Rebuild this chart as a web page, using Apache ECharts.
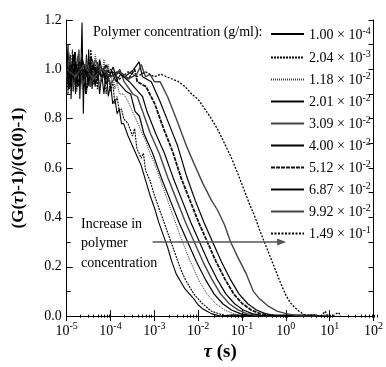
<!DOCTYPE html>
<html><head><meta charset="utf-8">
<script src="https://cdn.jsdelivr.net/npm/echarts@6/dist/echarts.min.js"></script>
<style>html,body{margin:0;padding:0;background:#fff}#c{width:386px;height:367px}</style>
</head><body><div id="c"></div><script>
// concentrations (legend)
const concMant = ['1.00','2.04','1.18','2.01','3.09','4.00','5.12','6.87','9.92','1.49'];
const concExp  = [-4,-3,-2,-2,-2,-2,-2,-2,-2,-1];
// x tick exponents / y ticks
const xTickExps = [-5,-4,-3,-2,-1,0,1,2];
const yTicks = [0.0,0.2,0.4,0.6,0.8,1.0,1.2];
// curves: [log10(tau/s), (G(tau)-1)/(G(0)-1)]
const c1 = [[-5.0,0.98],[-4.97,1.1],[-4.95,0.92],[-4.92,1.06],[-4.9,0.88],[-4.87,1.04],[-4.85,0.91],[-4.82,1.07],[-4.8,0.9],[-4.77,1.02],[-4.75,0.93],[-4.72,1.08],[-4.7,0.88],[-4.67,1.05],[-4.65,1.19],[-4.62,0.82],[-4.6,1.0],[-4.57,0.9],[-4.55,1.06],[-4.52,0.94],[-4.5,1.08],[-4.47,0.93],[-4.45,1.05],[-4.42,0.92],[-4.4,1.0],[-4.35,0.93],[-4.3,1.03],[-4.25,0.9],[-4.2,0.98],[-4.15,0.9],[-4.1,1.0],[-4.05,0.89],[-4.0,0.94],[-3.95,0.86],[-3.9,0.88],[-3.85,0.82],[-3.8,0.84],[-3.75,0.78],[-3.7,0.78],[-3.6,0.73],[-3.5,0.69],[-3.4,0.65],[-3.3,0.61],[-3.2,0.55],[-3.1,0.49],[-3.0,0.44],[-2.9,0.38],[-2.8,0.33],[-2.7,0.28],[-2.6,0.22],[-2.5,0.17],[-2.4,0.14],[-2.3,0.11],[-2.2,0.09],[-2.1,0.07],[-2.0,0.045],[-1.9,0.03],[-1.8,0.02],[-1.7,0.01],[-1.5,0.0],[-1.2,0.005],[-0.8,0.0],[-0.3,0.004],[0.2,0.0]];
const c2 = [[-5.0,1.02],[-4.97,0.9],[-4.95,1.05],[-4.92,0.93],[-4.9,0.94],[-4.87,1.08],[-4.85,0.95],[-4.8,1.07],[-4.77,0.91],[-4.75,1.0],[-4.7,0.96],[-4.67,1.04],[-4.62,0.93],[-4.6,1.02],[-4.55,0.9],[-4.5,0.99],[-4.45,1.08],[-4.4,0.97],[-4.35,1.02],[-4.3,0.92],[-4.25,1.03],[-4.2,0.95],[-4.15,1.01],[-4.1,0.9],[-4.05,0.97],[-4.0,0.91],[-3.95,0.95],[-3.9,0.86],[-3.85,0.89],[-3.8,0.83],[-3.75,0.84],[-3.7,0.8],[-3.6,0.78],[-3.5,0.73],[-3.45,0.76],[-3.4,0.68],[-3.3,0.64],[-3.25,0.66],[-3.2,0.59],[-3.1,0.55],[-3.0,0.49],[-2.9,0.44],[-2.8,0.39],[-2.7,0.34],[-2.6,0.29],[-2.5,0.24],[-2.4,0.19],[-2.3,0.15],[-2.2,0.12],[-2.1,0.09],[-2.0,0.07],[-1.9,0.05],[-1.8,0.035],[-1.7,0.02],[-1.5,0.008],[-1.3,0.0],[-0.9,0.004],[-0.4,0.0],[0.3,0.0]];
const c3 = [[-5.0,0.95],[-4.95,1.07],[-4.9,1.0],[-4.85,0.91],[-4.8,0.97],[-4.75,1.06],[-4.7,1.02],[-4.65,0.92],[-4.6,0.95],[-4.55,1.05],[-4.5,1.0],[-4.45,0.93],[-4.4,0.96],[-4.35,1.06],[-4.3,1.02],[-4.25,0.94],[-4.2,0.97],[-4.15,1.04],[-4.1,0.96],[-4.05,1.02],[-4.0,0.93],[-3.95,0.99],[-3.9,0.92],[-3.85,0.95],[-3.8,0.9],[-3.7,0.9],[-3.6,0.87],[-3.5,0.83],[-3.4,0.79],[-3.3,0.75],[-3.2,0.71],[-3.1,0.66],[-3.0,0.62],[-2.9,0.57],[-2.8,0.52],[-2.7,0.47],[-2.6,0.42],[-2.5,0.37],[-2.4,0.32],[-2.3,0.275],[-2.2,0.23],[-2.1,0.19],[-2.0,0.15],[-1.9,0.12],[-1.8,0.09],[-1.7,0.07],[-1.6,0.05],[-1.4,0.025],[-1.2,0.01],[-1.0,0.0],[-0.5,0.003],[0.2,0.0]];
const c4 = [[-5.0,1.0],[-4.95,0.92],[-4.9,0.96],[-4.85,1.06],[-4.8,1.0],[-4.75,0.93],[-4.7,0.95],[-4.65,1.03],[-4.6,1.01],[-4.55,0.92],[-4.5,0.94],[-4.45,1.05],[-4.4,1.03],[-4.35,0.94],[-4.3,0.96],[-4.25,1.04],[-4.2,1.0],[-4.1,0.94],[-4.04,0.97],[-3.94,1.01],[-3.84,0.95],[-3.64,0.91],[-3.54,0.9],[-3.44,0.83],[-3.34,0.81],[-3.24,0.74],[-3.04,0.66],[-2.84,0.56],[-2.64,0.47],[-2.44,0.38],[-2.24,0.30],[-2.04,0.22],[-1.84,0.15],[-1.64,0.09],[-1.44,0.05],[-1.24,0.025],[-1.04,0.01],[-0.84,0.003],[-0.64,0.0],[0.0,0.004],[0.4,0.0]];
const c5 = [[-5.0,0.97],[-4.95,1.04],[-4.9,1.03],[-4.85,0.93],[-4.8,0.96],[-4.75,1.05],[-4.7,1.02],[-4.65,0.94],[-4.6,0.95],[-4.55,1.03],[-4.5,1.01],[-4.45,0.93],[-4.4,0.97],[-4.35,1.04],[-4.3,1.02],[-4.2,0.96],[-4.1,0.99],[-4.0,0.94],[-3.89,0.97],[-3.79,1.0],[-3.69,0.95],[-3.49,0.9],[-3.39,0.89],[-3.29,0.84],[-3.09,0.74],[-2.89,0.66],[-2.69,0.56],[-2.49,0.47],[-2.29,0.38],[-2.09,0.30],[-1.89,0.22],[-1.69,0.15],[-1.49,0.09],[-1.29,0.05],[-1.09,0.025],[-0.89,0.01],[-0.69,0.003],[-0.49,0.0],[0.2,0.003],[0.5,0.0]];
const c6 = [[-5.0,1.02],[-4.95,0.93],[-4.9,0.96],[-4.85,1.04],[-4.8,1.03],[-4.75,0.94],[-4.7,0.97],[-4.65,1.05],[-4.6,1.01],[-4.5,0.95],[-4.4,1.02],[-4.3,0.97],[-4.2,1.0],[-4.1,0.96],[-3.97,0.99],[-3.87,0.95],[-3.77,0.98],[-3.57,0.95],[-3.37,0.91],[-3.27,0.89],[-3.17,0.83],[-2.97,0.74],[-2.77,0.66],[-2.57,0.56],[-2.37,0.47],[-2.17,0.38],[-1.97,0.30],[-1.77,0.22],[-1.57,0.15],[-1.37,0.09],[-1.17,0.05],[-0.97,0.025],[-0.77,0.01],[-0.57,0.003],[-0.37,0.0],[0.3,0.004],[0.6,0.0]];
const c7 = [[-5.0,0.96],[-4.9,1.02],[-4.8,0.95],[-4.7,1.03],[-4.6,0.97],[-4.5,1.0],[-4.4,0.94],[-4.3,1.01],[-4.2,0.97],[-4.1,1.02],[-4.0,0.97],[-3.79,0.99],[-3.59,0.96],[-3.45,1.0],[-3.39,0.95],[-3.19,0.93],[-2.99,0.86],[-2.79,0.76],[-2.59,0.67],[-2.39,0.56],[-2.19,0.47],[-1.99,0.38],[-1.79,0.30],[-1.59,0.22],[-1.39,0.15],[-1.19,0.09],[-0.99,0.05],[-0.79,0.025],[-0.59,0.01],[-0.39,0.003],[-0.19,0.0],[0.5,0.003],[0.8,0.0]];
const c8 = [[-5.0,1.01],[-4.9,0.95],[-4.8,1.02],[-4.7,0.97],[-4.6,1.0],[-4.5,0.96],[-4.4,1.01],[-4.3,0.97],[-4.2,1.0],[-4.0,0.97],[-3.85,0.99],[-3.67,0.97],[-3.47,1.0],[-3.35,1.03],[-3.27,0.97],[-3.07,0.95],[-2.87,0.87],[-2.67,0.78],[-2.47,0.69],[-2.27,0.57],[-2.07,0.47],[-1.87,0.38],[-1.67,0.30],[-1.47,0.22],[-1.27,0.15],[-1.07,0.09],[-0.87,0.05],[-0.67,0.025],[-0.47,0.01],[-0.27,0.003],[-0.07,0.0],[0.6,0.004],[0.9,0.0]];
const c9 = [[-5.0,1.0],[-4.8,0.97],[-4.6,1.02],[-4.4,0.96],[-4.2,1.0],[-4.0,0.97],[-3.8,0.99],[-3.6,0.96],[-3.4,0.98],[-3.3,1.02],[-3.2,0.97],[-3.1,0.98],[-3.0,0.95],[-2.87,0.95],[-2.7,0.89],[-2.5,0.8],[-2.27,0.69],[-2.1,0.62],[-1.9,0.54],[-1.7,0.47],[-1.56,0.43],[-1.4,0.37],[-1.26,0.30],[-1.1,0.24],[-0.9,0.17],[-0.74,0.10],[-0.6,0.07],[-0.4,0.04],[-0.2,0.02],[0.0,0.01],[0.27,0.002],[0.6,0.0],[1.0,0.004]];
const c10 = [[-5.0,0.98],[-4.8,1.03],[-4.6,0.96],[-4.4,1.01],[-4.2,0.97],[-4.0,1.0],[-3.8,0.96],[-3.6,0.99],[-3.4,0.97],[-3.2,0.99],[-3.0,0.97],[-2.85,0.98],[-2.65,0.965],[-2.45,0.95],[-2.3,0.93],[-2.15,0.9],[-2.0,0.878],[-1.85,0.84],[-1.7,0.8],[-1.55,0.755],[-1.4,0.7],[-1.25,0.645],[-1.1,0.58],[-0.95,0.51],[-0.82,0.45],[-0.7,0.4],[-0.6,0.35],[-0.49,0.3],[-0.4,0.26],[-0.3,0.215],[-0.2,0.17],[-0.1,0.125],[0.0,0.085],[0.1,0.055],[0.2,0.035],[0.3,0.02],[0.4,0.008],[0.5,0.0],[0.65,0.005],[0.8,0.0],[0.9,0.02],[0.95,0.0],[1.1,0.004],[1.2,0.015],[1.25,0.0]];
const curves = [c1,c2,c3,c4,c5,c6,c7,c8,c9,c10];
// arrow annotation (tau range at level)
const arrowTau = [9.1e-4, 0.8];
const arrowLevel = 0.3;

const styles = [
  {color:'#000', width:1.1, type:'solid'},
  {color:'#000', width:1.1, type:[2,1]},
  {color:'#333', width:1.0, type:[1,1]},
  {color:'#000', width:1.2, type:'solid'},
  {color:'#444', width:1.4, type:'solid'},
  {color:'#000', width:1.2, type:'solid'},
  {color:'#111', width:1.8, type:[4,1]},
  {color:'#000', width:1.2, type:'solid'},
  {color:'#444', width:1.4, type:'solid'},
  {color:'#000', width:1.3, type:[2,1.5]}
];
const names = concMant.map((m,i)=> m + ' \u00d7 10^' + concExp[i]);
const FF = '"Liberation Serif", "Times New Roman", serif';

const minorVals = [];
for (let e=-5; e<2; e++) for (let m=2; m<=9; m++) minorVals.push(m*Math.pow(10,e));

const series = curves.map((arr,i)=>({
  type:'line', name:names[i], xAxisIndex:0, yAxisIndex:0,
  data: arr.map(p=>[Math.pow(10,p[0]), p[1]]),
  symbol:'none', animation:false, clip:true,
  lineStyle: styles[i], itemStyle:{color:styles[i].color}
}));
series[9].markLine = {
  silent:true, animation:false, symbol:['none','triangle'], symbolSize:[7,9],
  lineStyle:{color:'#555', width:1.5, type:'solid'}, label:{show:false},
  data:[[{coord:[arrowTau[0],arrowLevel]},{coord:[arrowTau[1],arrowLevel]}]]
};

const legendText = {
  fontFamily:FF, fontSize:14, color:'#000',
  rich:{ m:{fontFamily:FF, fontSize:14, color:'#000', verticalAlign:'bottom'},
         s:{fontFamily:FF, fontSize:10, color:'#000', verticalAlign:'bottom', padding:[0,0,6,0]} }
};
const legendFmt = n => { const p=n.split('^'); return '{m|'+p[0]+'}{s|'+p[1]+'}'; };
const legendBase = {orient:'vertical', left:270, itemWidth:33, itemHeight:14, itemGap:6, padding:0,
  icon:'inherit', itemStyle:{opacity:0}, textStyle:legendText, formatter:legendFmt, selectedMode:false};

const gridRect = {left:66.7, right:7, top:20, bottom:49.3};
const chart = echarts.init(document.getElementById('c'));
chart.setOption({
  backgroundColor:'#fff',
  animation:false,
  grid:[Object.assign({}, gridRect), Object.assign({}, gridRect)],
  legend:[
    Object.assign({data:[names[0]], top:26}, legendBase),
    Object.assign({data:names.slice(1), top:49.5}, legendBase)
  ],
  xAxis:[
    {type:'log', logBase:10, min:1e-5, max:1e2, gridIndex:0, position:'bottom',
     name:'{t|\u03c4}{a| (s)}', nameLocation:'middle', nameGap:26,
     nameTextStyle:{rich:{t:{fontFamily:FF, fontSize:19, fontWeight:'bold', fontStyle:'italic', color:'#000'},
                          a:{fontFamily:FF, fontSize:19, fontWeight:'bold', color:'#000'}}},
     axisLine:{lineStyle:{color:'#000', width:1}},
     axisTick:{inside:true, length:6, lineStyle:{color:'#000'}},
     splitLine:{show:false},
     axisLabel:{margin:5, formatter:v=>'{b|10}{s|'+Math.round(Math.log10(v))+'}',
       rich:{b:{fontFamily:FF, fontSize:14, color:'#000', verticalAlign:'bottom'},
             s:{fontFamily:FF, fontSize:10, color:'#000', verticalAlign:'bottom', padding:[0,0,7,0]}}}},
    {type:'log', logBase:10, min:1e-5, max:1e2, gridIndex:0, position:'top',
     axisLine:{lineStyle:{color:'#000', width:1}},
     axisTick:{inside:true, length:5, lineStyle:{color:'#000'}},
     axisLabel:{show:false}, splitLine:{show:false}},
    {type:'log', logBase:10, min:1e-5, max:1e2, gridIndex:1, position:'bottom',
     axisLine:{show:false},
     axisTick:{inside:true, length:3, customValues:minorVals, lineStyle:{color:'#000'}},
     axisLabel:{show:false}, splitLine:{show:false}}
  ],
  yAxis:[
    {type:'value', min:0, max:1.2, interval:0.2, gridIndex:0, position:'left',
     name:'{a|(G(}{t|\u03c4}{a|)-1)/(G(0)-1)}', nameLocation:'middle', nameGap:40, nameRotate:90,
     nameTextStyle:{rich:{t:{fontFamily:FF, fontSize:17, fontWeight:'bold', fontStyle:'italic', color:'#000'},
                          a:{fontFamily:FF, fontSize:17, fontWeight:'bold', color:'#000'}}},
     axisLine:{show:true, lineStyle:{color:'#000', width:1}},
     axisTick:{show:true, inside:true, length:6, lineStyle:{color:'#000'}},
     minorTick:{show:true, splitNumber:2, length:4, lineStyle:{color:'#000'}},
     splitLine:{show:false},
     axisLabel:{margin:5, fontFamily:FF, fontSize:14, color:'#000', formatter:v=>v.toFixed(1)}},
    {type:'value', min:0, max:1.2, interval:0.1, gridIndex:0, position:'right',
     axisLine:{show:true, lineStyle:{color:'#000', width:1}},
     axisTick:{show:true, inside:true, length:5, lineStyle:{color:'#000'}},
     axisLabel:{show:false}, splitLine:{show:false}},
    {type:'value', min:0, max:1.2, gridIndex:1, show:false}
  ],
  graphic:[
    {type:'text', left:93, top:25, style:{text:'Polymer concentration (g/ml):', font:'14px '+FF, fill:'#000'}},
    {type:'text', left:81, top:214, style:{text:'Increase in\npolymer\nconcentration', font:'14px '+FF, fill:'#000', lineHeight:19.7}}
  ],
  series: series
});
</script></body></html>
